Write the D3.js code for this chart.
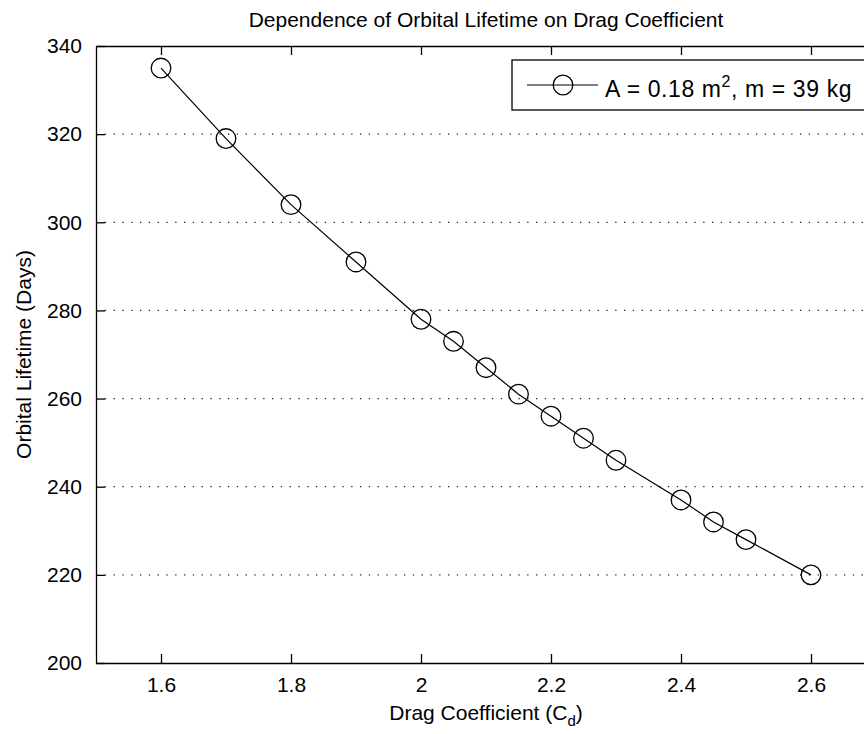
<!DOCTYPE html>
<html>
<head>
<meta charset="utf-8">
<script src="https://cdn.jsdelivr.net/npm/d3@7"></script>
<style>
  body { margin: 0; background: #fff; }
  svg { display: block; }
  text { font-family: "Liberation Sans", Arial, Helvetica, sans-serif; fill: #000; }
  .axis path, .axis line { stroke: #000; stroke-width: 1.3px; }
</style>
</head>
<body>
<div class="graph"></div>
<script>
// drag coefficient vs orbital lifetime
var dragCoeff = [1.6, 1.7, 1.8, 1.9, 2.0, 2.05, 2.1, 2.15, 2.2, 2.25, 2.3, 2.4, 2.45, 2.5, 2.6];
var lifetimeDays = [335, 319, 304, 291, 278, 273, 267, 261, 256, 251, 246, 237, 232, 228, 220];
var xTicks = [1.6, 1.8, 2, 2.2, 2.4, 2.6];
var yTicks = [200, 220, 240, 260, 280, 300, 320, 340];
var gridValues = [220, 240, 260, 280, 300, 320];
var legendLabel = "A = 0.18 m";
var legendRest = ", m = 39 kg";

var margin = {top: 46, left: 96};
var width = 780;
var height = 617;
var fontSize = 21;

var svg = d3.select(".graph").append("svg")
  .attr("width", 864)
  .attr("height", 734);

var g = svg.append("g")
  .attr("transform", "translate(" + margin.left + "," + margin.top + ")");

var x = d3.scaleLinear().domain([1.5, 2.7]).range([0, width]);
var y = d3.scaleLinear().domain([200, 340]).range([height, 0]);

var data = dragCoeff.map(function (d, i) {
  return {cd: d, days: lifetimeDays[i]};
});

// dotted gridlines
g.selectAll(".grid")
  .data(gridValues)
  .enter().append("line")
  .attr("class", "grid")
  .attr("x1", 0)
  .attr("x2", width)
  .attr("y1", function (d) { return y(d); })
  .attr("y2", function (d) { return y(d); })
  .attr("stroke", "#222")
  .attr("stroke-width", 1.3)
  .style("stroke-dasharray", "1.3, 7.5");

// axes, ticks pointing inward
var xAxis = d3.axisBottom(x).tickValues(xTicks).tickSizeInner(-9).tickSizeOuter(0)
  .tickPadding(14).tickFormat(function (d) { return String(d); });
var xAxisTop = d3.axisTop(x).tickValues(xTicks).tickSizeInner(-9).tickSizeOuter(0)
  .tickFormat("");
var yAxis = d3.axisLeft(y).tickValues(yTicks).tickSizeInner(-9).tickSizeOuter(0)
  .tickPadding(14);
var yAxisRight = d3.axisRight(y).tickValues(yTicks).tickSizeInner(-9).tickSizeOuter(0)
  .tickFormat("");

g.append("g").attr("class", "axis")
  .attr("transform", "translate(0," + height + ")")
  .call(xAxis);
g.append("g").attr("class", "axis").call(xAxisTop);
g.append("g").attr("class", "axis").call(yAxis);
g.append("g").attr("class", "axis")
  .attr("transform", "translate(" + width + ",0)")
  .call(yAxisRight);

g.selectAll(".axis text")
  .style("font-size", fontSize + "px")
  .style("font-family", "'Liberation Sans', Arial, sans-serif")
  .attr("fill", "#000");

// the series
var line = d3.line()
  .x(function (d) { return x(d.cd); })
  .y(function (d) { return y(d.days); });

g.append("path")
  .datum(data)
  .attr("fill", "none")
  .attr("stroke", "#000")
  .attr("stroke-width", 1.2)
  .attr("d", line);

g.selectAll(".marker")
  .data(data)
  .enter().append("circle")
  .attr("class", "marker")
  .attr("cx", function (d) { return x(d.cd); })
  .attr("cy", function (d) { return y(d.days); })
  .attr("r", 9.8)
  .attr("fill", "none")
  .attr("stroke", "#000")
  .attr("stroke-width", 1.3);

// legend
var legend = g.append("g")
  .attr("transform", "translate(" + (512 - margin.left) + "," + (60 - margin.top) + ")");

legend.append("rect")
  .attr("width", 358)
  .attr("height", 50)
  .attr("fill", "#fff")
  .attr("stroke", "#000")
  .attr("stroke-width", 1.3);

legend.append("line")
  .attr("x1", 15).attr("x2", 86)
  .attr("y1", 25).attr("y2", 25)
  .attr("stroke", "#000")
  .attr("stroke-width", 1.2);

legend.append("circle")
  .attr("cx", 51).attr("cy", 25)
  .attr("r", 9.8)
  .attr("fill", "none")
  .attr("stroke", "#000")
  .attr("stroke-width", 1.3);

var legendText = legend.append("text")
  .attr("x", 93)
  .attr("y", 37)
  .style("font-size", "23px")
  .style("letter-spacing", "0.6px");
legendText.append("tspan").text(legendLabel);
legendText.append("tspan").attr("dy", -10).style("font-size", "16px").text("2");
legendText.append("tspan").attr("dy", 10).text(legendRest);

// title and axis labels
svg.append("text")
  .attr("x", margin.left + width / 2)
  .attr("y", 27)
  .style("text-anchor", "middle")
  .style("font-size", fontSize + "px")
  .text("Dependence of Orbital Lifetime on Drag Coefficient");

var xLabel = svg.append("text")
  .attr("x", margin.left + width / 2)
  .attr("y", 720)
  .style("text-anchor", "middle")
  .style("font-size", fontSize + "px");
xLabel.append("tspan").text("Drag Coefficient (C");
xLabel.append("tspan").attr("dy", 6).style("font-size", "15px").text("d");
xLabel.append("tspan").attr("dy", -6).text(")");

svg.append("text")
  .attr("transform", "translate(31," + (margin.top + height / 2) + ") rotate(-90)")
  .style("text-anchor", "middle")
  .style("font-size", fontSize + "px")
  .text("Orbital Lifetime (Days)");
</script>
</body>
</html>
